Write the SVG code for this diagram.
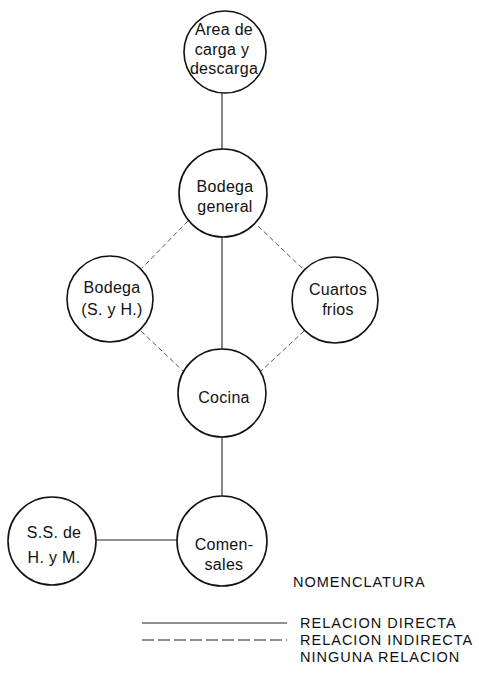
<svg xmlns="http://www.w3.org/2000/svg" width="479" height="677" viewBox="0 0 479 677">
<style>
.n{fill:#fff;stroke:#111;stroke-width:1.6}
.t{font-family:"Liberation Sans",Arial,sans-serif;font-size:16px;letter-spacing:0.3px;fill:#111;text-anchor:middle}
.l{font-family:"Liberation Sans",Arial,sans-serif;font-size:14.5px;letter-spacing:1px;fill:#111}
.s{stroke:#222;stroke-width:1.1;fill:none}
.d{stroke:#444;stroke-width:0.9;stroke-dasharray:5 3;fill:none}
</style>
<rect width="479" height="677" fill="#fff"/>
<g id="connectors">
<line class="s" x1="222" y1="93" x2="222" y2="149"/>
<line class="s" x1="222" y1="237" x2="222" y2="350"/>
<line class="s" x1="222" y1="437" x2="222" y2="496"/>
<line class="s" x1="95" y1="540" x2="177" y2="540"/>
<line class="d" x1="188" y1="221" x2="142" y2="268"/>
<line class="d" x1="258" y1="226" x2="303" y2="269"/>
<line class="d" x1="141" y1="331" x2="184" y2="372"/>
<line class="d" x1="304" y1="331" x2="260" y2="372"/>
</g>
<g id="area-carga">
<circle class="n" cx="225" cy="52" r="41"/>
<text class="t" x="224" y="35">Area de</text>
<text class="t" x="222" y="55">carga y</text>
<text class="t" x="224" y="74">descarga</text>
</g>
<g id="bodega-general">
<circle class="n" cx="223" cy="193" r="44"/>
<text class="t" x="225" y="192">Bodega</text>
<text class="t" x="225" y="212">general</text>
</g>
<g id="bodega-syh">
<circle class="n" cx="110" cy="299" r="43"/>
<text class="t" x="112" y="293">Bodega</text>
<text class="t" x="112" y="315">(S. y H.)</text>
</g>
<g id="cuartos-frios">
<circle class="n" cx="335" cy="300" r="43"/>
<text class="t" x="338" y="295">Cuartos</text>
<text class="t" x="338" y="315">frios</text>
</g>
<g id="cocina">
<circle class="n" cx="222" cy="393" r="44"/>
<text class="t" x="224" y="403">Cocina</text>
</g>
<g id="comensales">
<circle class="n" cx="222" cy="541" r="45"/>
<text class="t" x="224" y="550">Comen-</text>
<text class="t" x="224" y="570">sales</text>
</g>
<g id="ss-hym">
<circle class="n" cx="52" cy="541" r="44"/>
<text class="t" x="54" y="538">S.S. de</text>
<text class="t" x="54" y="563">H. y M.</text>
</g>
<g id="legend">
<text class="l" x="293" y="587">NOMENCLATURA</text>
<line class="s" x1="142" y1="623" x2="287" y2="623"/>
<line class="s" x1="142" y1="640" x2="287" y2="640" stroke-dasharray="12 4"/>
<text class="l" x="300" y="628">RELACION DIRECTA</text>
<text class="l" x="300" y="645">RELACION INDIRECTA</text>
<text class="l" x="300" y="662">NINGUNA RELACION</text>
</g>
</svg>
